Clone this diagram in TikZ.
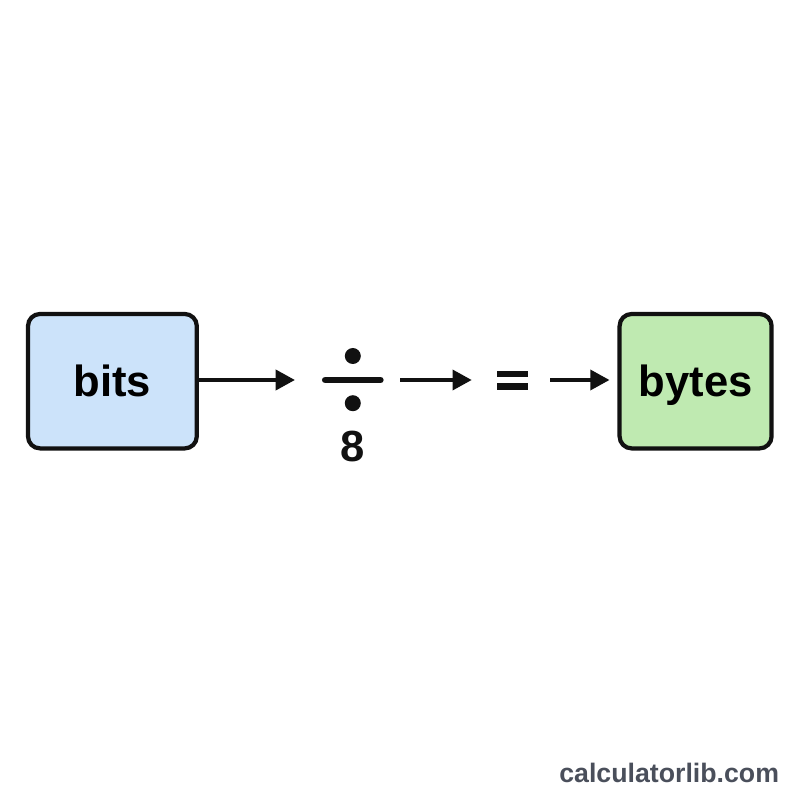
\documentclass[tikz,border=0pt]{standalone}
\usepackage{fontspec}
\setmainfont{Liberation Sans}
\usetikzlibrary{positioning, arrows.meta}
\definecolor{bitsblue}{HTML}{CCE3FA}
\definecolor{bytesgreen}{HTML}{BFEAB1}
\definecolor{markgray}{HTML}{4A4F5B}
\definecolor{ink}{HTML}{111111}

\begin{document}
\begin{tikzpicture}[
      unitbox/.style={draw=ink, line width=3pt, rounded corners=0.3cm,
        minimum height=3.36cm, text depth=0pt,
        font=\fontsize{31}{37}\selectfont\bfseries},
      opsym/.style={inner sep=0pt, minimum height=0.4cm},
      flow/.style={draw=ink, line width=2.6pt,
        -{Triangle[length=0.48cm, width=0.5cm]}}]
    \useasboundingbox (0,0) rectangle (20,20);
    % the two units
    \node[unitbox, fill=bitsblue, minimum width=4.22cm] (bits) at (2.81,10.47) {bits};
    \node[unitbox, fill=bytesgreen, minimum width=3.8cm] (bytes) at (17.39,10.47) {bytes};
    % operator placeholders
    \node[opsym, minimum width=1.52cm] (div) at (8.82,10.5) {};
    \node[opsym, minimum width=0.78cm] (eq) at (12.81,10.5) {};
    \node[font=\fontsize{31}{37}\selectfont\bfseries, text=ink, below=0.95cm of div] (eight) {8};
    % division sign
    \draw[ink, line width=0.17cm, line cap=round]
      ([xshift=0.08cm]div.west) -- ([xshift=-0.08cm]div.east);
    \fill[ink] ([yshift=0.6cm]div.center) circle (0.2cm);
    \fill[ink] ([yshift=-0.58cm]div.center) circle (0.2cm);
    % equals sign
    \fill[ink] ([yshift=0.08cm]eq.west) rectangle ([yshift=0.23cm]eq.east);
    \fill[ink] ([yshift=-0.08cm]eq.west) rectangle ([yshift=-0.24cm]eq.east);
    % connectors
    \draw[flow, shorten >=0.68cm] (bits.east |- div.west) -- (div.west);
    \draw[flow, shorten <=0.42cm, shorten >=0.62cm] (div.east) -- (eq.west);
    \draw[flow, shorten <=0.55cm, shorten >=0.2cm] (eq.east) -- (bytes.west |- eq.east);
    % watermark
    \node[font=\fontsize{19}{23}\selectfont\bfseries, text=markgray, anchor=east]
      (site) at (19.6,0.68) {calculatorlib.com};
  \end{tikzpicture}
\end{document}
